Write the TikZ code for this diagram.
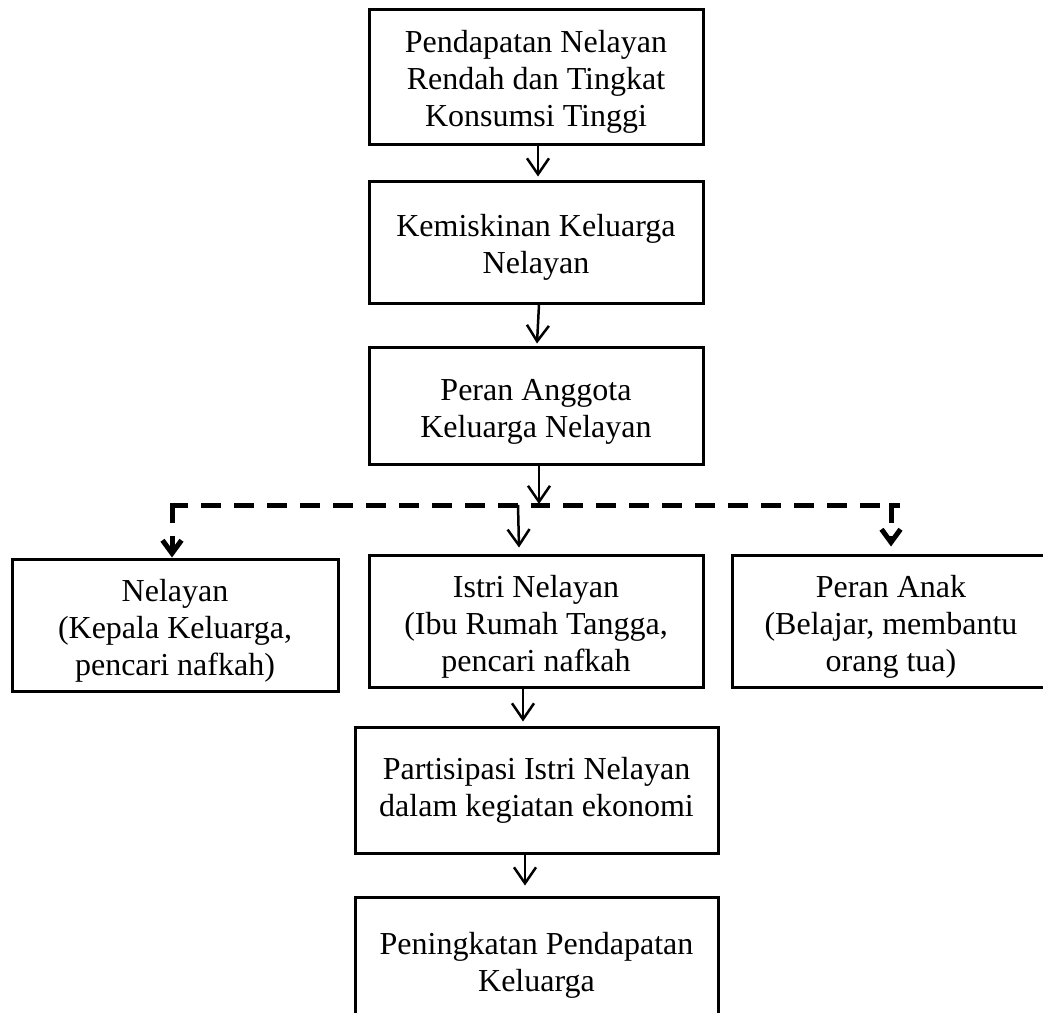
\documentclass[tikz,border=0pt]{standalone}
\usepackage{fontspec}
\setmainfont{Liberation Serif}
\usetikzlibrary{arrows.meta}
\newcommand{\turun}{\rule{0pt}{33pt}}

\tikzset{
  kotak/.style={draw,line width=3pt,align=center,inner sep=0pt,
    font=\fontsize{32}{37}\selectfont},
  panah/.style={line width=2.5pt,-{Straight Barb[length=16pt,width=22pt]}},
  putus/.style={line width=5pt,dash pattern=on 20pt off 13pt},
  ujung/.style={-{Straight Barb[length=13pt,width=19pt]}}
}

\begin{document}
\begin{tikzpicture}[x=1pt,y=-1pt]
    \useasboundingbox (0,0) rectangle (1043,1012);
    \clip (0,0) rectangle (1043,1012);

    \node[kotak,minimum width=334pt,minimum height=135pt] (A) at (536,76.5)
      {\turun Pendapatan Nelayan\\Rendah dan Tingkat\\Konsumsi Tinggi};
    \node[kotak,minimum width=334pt,minimum height=122pt] (B) at (536,242)
      {\turun Kemiskinan Keluarga\\Nelayan};
    \node[kotak,minimum width=334pt,minimum height=117pt] (C) at (536,405.5)
      {\turun Peran Anggota\\Keluarga Nelayan};

    \node[kotak,minimum width=326pt,minimum height=132pt] (D) at (175,625)
      {\turun Nelayan\\(Kepala Keluarga,\\pencari nafkah)};
    \node[kotak,minimum width=334pt,minimum height=132pt] (E) at (536,621)
      {\turun Istri Nelayan\\(Ibu Rumah Tangga,\\pencari nafkah};
    \node[kotak,minimum width=318pt,minimum height=132pt] (F) at (891,621)
      {\turun Peran Anak\\(Belajar, membantu\\orang tua)};

    \node[kotak,minimum width=363pt,minimum height=126pt] (G) at (536.5,790)
      {Partisipasi Istri Nelayan\\dalam kegiatan ekonomi};
    \node[kotak,minimum width=363pt,minimum height=136pt] (H) at (536.5,965)
      {Peningkatan Pendapatan\\Keluarga};

    \coordinate (S) at (539,505);
    \path ([xshift=-3pt]D.north) coordinate (Dt);
    \coordinate (kiri) at (Dt |- S);
    \coordinate (kanan) at (F.north |- S);

    \draw[panah] ([xshift=2pt]A.south) -- ([xshift=2pt,yshift=3pt]B.north);
    \draw[panah] ([xshift=3pt]B.south) -- ([xshift=1pt,yshift=2pt]C.north);
    \draw[panah] ([xshift=3pt]C.south) -- ([yshift=1pt]S);

    % garis putus-putus ke tiga peran
    \draw[putus,dash phase=12pt] (S) -- (kiri);
    \draw[putus,ujung] ([yshift=2.5pt]kiri) -- (Dt);
    \draw[putus,dash phase=9pt] (S) -- ([xshift=9pt]kanan);
    \draw[putus,ujung] ([yshift=2.5pt]kanan) -- ([yshift=7pt]F.north);
    \draw[panah] ([xshift=-21pt]S) -- ([xshift=-17pt,yshift=6pt]E.north);

    \draw[panah] ([xshift=-13pt]E.south) -- ([xshift=-13.5pt,yshift=4pt]G.north);
    \draw[panah] ([xshift=-11.5pt]G.south) -- ([xshift=-11.5pt,yshift=10pt]H.north);
\end{tikzpicture}
\end{document}
